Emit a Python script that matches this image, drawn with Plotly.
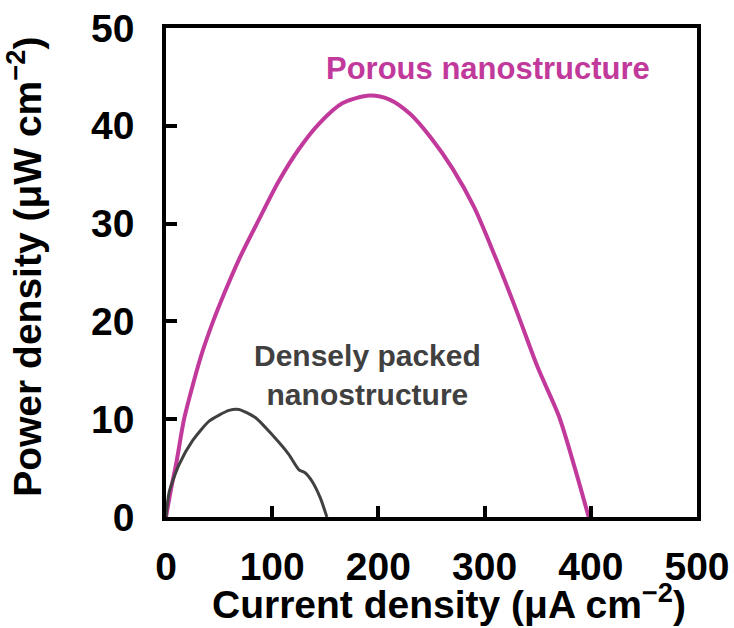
import plotly.graph_objects as go

# Power density vs current density for the two electrode morphologies
porous_current = [0, 5, 10, 17, 25, 34, 44, 55, 69, 87, 106, 125, 144, 166, 192,
                  210, 230, 250, 270, 290, 310, 330, 350, 370, 385, 398]
porous_power = [0, 3.0, 5.7, 10.0, 13.4, 16.8, 19.9, 22.9, 26.4, 30.3, 34.3, 37.6,
                40.2, 42.3, 43.1, 42.7, 41.2, 38.7, 35.6, 31.7, 26.6, 21.1, 15.3,
                10.3, 5.0, 0]

dense_current = [0, 3.1, 12.5, 25, 40.6, 59.3, 68.7, 84.4, 100, 115.6, 125, 131.2,
                 137.5, 145.3, 151.5]
dense_power = [0, 2.6, 5.4, 7.8, 9.8, 10.9, 11.0, 10.15, 8.4, 6.4, 4.85, 4.5,
               3.65, 1.95, 0]

x_ticks = [0, 100, 200, 300, 400, 500]
y_ticks = [0, 10, 20, 30, 40, 50]

PINK = "#C1399B"
GREY = "#404040"
FONT = "Liberation Sans, Arial, sans-serif"

fig = go.Figure()
fig.add_trace(go.Scatter(x=porous_current, y=porous_power, mode="lines",
                         line=dict(color=PINK, width=4, shape="spline", smoothing=0.8),
                         showlegend=False))
fig.add_trace(go.Scatter(x=dense_current, y=dense_power, mode="lines",
                         line=dict(color=GREY, width=3, shape="spline", smoothing=0.6),
                         showlegend=False))

fig.add_annotation(x=303, y=45.9, text="Porous nanostructure", showarrow=False,
                   font=dict(family=FONT, size=31, color=PINK, weight="bold"))
fig.add_annotation(x=190, y=14.5, text="Densely packed<br>nanostructure",
                   showarrow=False,
                   font=dict(family=FONT, size=30, color=GREY, weight="bold"))

# axis titles placed as paper-anchored text
title_font = dict(family=FONT, size=39, color="black", weight="bold")
fig.add_annotation(xref="paper", yref="paper", x=0.533, y=-0.226,
                   xanchor="center", yanchor="bottom", showarrow=False,
                   text="Current density (μA cm<sup>−2</sup>)", font=title_font)
fig.add_annotation(xref="paper", yref="paper", x=-0.268, y=0.511,
                   xanchor="center", yanchor="middle", showarrow=False,
                   textangle=-90,
                   text="Power density (μW cm<sup>−2</sup>)", font=title_font)

axis_common = dict(showline=True, linecolor="black", linewidth=3.5, mirror=True,
                   ticks="inside", ticklen=11, tickwidth=3.5, tickcolor="black",
                   showgrid=False, zeroline=False, automargin=False,
                   tickfont=dict(family=FONT, size=39, color="black", weight="bold"))

fig.update_xaxes(range=[0, 500], tickvals=x_ticks, ticklabelstandoff=12, **axis_common)
fig.update_yaxes(range=[0, 50], tickvals=y_ticks, ticklabelstandoff=20, **axis_common)

fig.update_layout(width=734, height=628,
                  margin=dict(l=166, r=37, t=28, b=111),
                  paper_bgcolor="white", plot_bgcolor="white")

fig.write_html("out.html")
